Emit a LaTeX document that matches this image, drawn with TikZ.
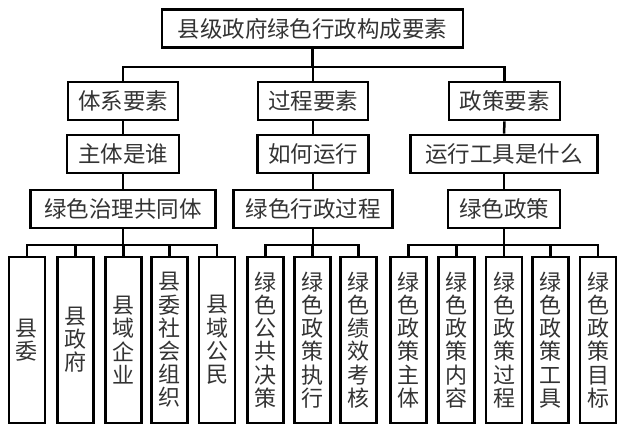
\documentclass[tikz,border=0pt]{standalone}
\usepackage{fontspec}
\newfontfamily\cjk{Noto Sans CJK SC}
\begin{document}
\begin{tikzpicture}[x=1pt,y=-1pt,
  hbox/.style={draw, line width=2.8pt, inner sep=0pt, minimum height=38pt,
    font=\cjk\fontsize{22.5}{24}\selectfont, text=black!80},
  vbox/.style={draw, line width=2.8pt, inner sep=0pt, minimum width=36pt, minimum height=166pt,
    align=center, font=\cjk\fontsize{22}{23.2}\selectfont, text=black!80},
  conn/.style={line width=2.5pt, line join=miter}]
\useasboundingbox (0,0) rectangle (625,430);
% level 1
\node[hbox, minimum width=301pt] (top) at (312.5,28.5) {县级政府绿色行政构成要素};
% level 2
\node[hbox, minimum width=110pt] (a) at (123,101) {体系要素};
\node[hbox, minimum width=110pt] (b) at (313,101) {过程要素};
\node[hbox, minimum width=111pt] (c) at (504.5,101) {政策要素};
% level 3
\node[hbox, minimum width=112pt] (a3) at (123,154) {主体是谁};
\node[hbox, minimum width=111pt] (b3) at (313,154) {如何运行};
\node[hbox, minimum width=187pt] (c3) at (504,154) {运行工具是什么};
% level 4
\node[hbox, minimum width=185pt] (a4) at (123,209) {绿色治理共同体};
\node[hbox, minimum width=159pt] (b4) at (313,209) {绿色行政过程};
\node[hbox, minimum width=112pt] (c4) at (504,209) {绿色政策};
% bottom
\node[vbox] (a51) at (27,340) {县\\委};
\node[vbox] (a52) at (75.5,340) {县\\政\\府};
\node[vbox] (a53) at (123.5,340) {县\\域\\企\\业};
\node[vbox] (a54) at (169.5,340) {县\\委\\社\\会\\组\\织};
\node[vbox] (a55) at (217,340) {县\\域\\公\\民};
\node[vbox] (b51) at (265.5,340) {绿\\色\\公\\共\\决\\策};
\node[vbox] (b52) at (312.5,340) {绿\\色\\政\\策\\执\\行};
\node[vbox] (b53) at (358.5,340) {绿\\色\\绩\\效\\考\\核};
\node[vbox] (c51) at (408.5,340) {绿\\色\\政\\策\\主\\体};
\node[vbox] (c52) at (456.5,340) {绿\\色\\政\\策\\内\\容};
\node[vbox] (c53) at (504,340) {绿\\色\\政\\策\\过\\程};
\node[vbox] (c54) at (550.5,340) {绿\\色\\政\\策\\工\\具};
\node[vbox] (c55) at (598,340) {绿\\色\\政\\策\\目\\标};
% bars
\coordinate (bar1) at (0,67);
\coordinate (bar2) at (0,245);
% connectors
\foreach \ch in {a,b,c}
  \draw[conn] (top.south) -- (top.south |- bar1) -| (\ch.north);
\foreach \p/\q in {a/a3, a3/a4, b/b3, b3/b4, c/c3, c3/c4}
  \draw[conn] (\p.south) -- (\q.north);
\foreach \ch in {a51,a52,a53,a54,a55}
  \draw[conn] (a4.south) -- (a4.south |- bar2) -| (\ch.north);
\foreach \ch in {b51,b52,b53}
  \draw[conn] (b4.south) -- (b4.south |- bar2) -| (\ch.north);
\foreach \ch in {c51,c52,c53,c54,c55}
  \draw[conn] (c4.south) -- (c4.south |- bar2) -| (\ch.north);
\end{tikzpicture}
\end{document}
